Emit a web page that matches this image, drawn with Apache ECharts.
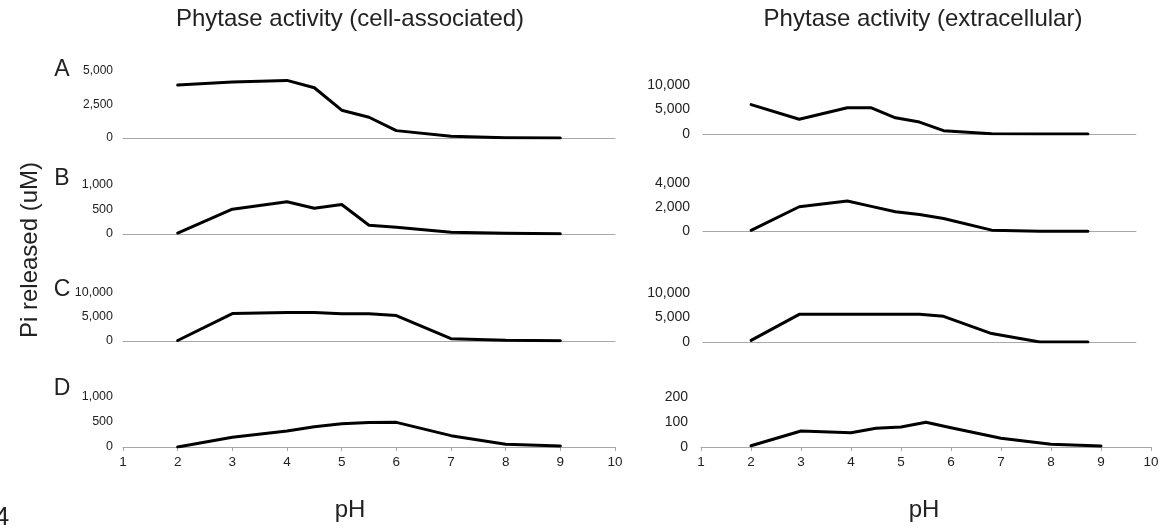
<!DOCTYPE html>
<html>
<head>
<meta charset="utf-8">
<script src="https://cdn.jsdelivr.net/npm/echarts@6/dist/echarts.min.js"></script>
<style>
  html, body { margin: 0; padding: 0; background: #fff; }
  #chart { width: 1165px; height: 529px; }
</style>
</head>
<body>
<div id="chart"></div>
<script>
// pH values used by every panel
const pH = [2, 3, 4, 4.5, 5, 5.5, 6, 7, 8, 9]
const xTicks = [1, 2, 3, 4, 5, 6, 7, 8, 9, 10]

// cell-associated (left column)
const cellA = [3950, 4175, 4300, 3750, 2075, 1550, 550, 125, 25, 0]
const cellB = [20, 507, 658, 527, 603, 178, 137, 34, 14, 7]
const cellC = [100, 5720, 5930, 5930, 5660, 5660, 5310, 480, 140, 70]
const cellD = [0, 193, 320, 406, 466, 490, 493, 227, 53, 20]

// extracellular (right column)
const extA = [6000, 3000, 5340, 5340, 3310, 2430, 675, 70, 0, 0]
const extB = [100, 2040, 2510, 2070, 1630, 1400, 1075, 110, 30, 30]
const extC = [345, 5650, 5650, 5650, 5650, 5650, 5240, 1720, 0, 0]
const extD = [5, 64, 57, 75, 80, 99, 77, 35, 11, 4]

const yMax = { cellA: 5000, cellB: 1000, cellC: 10000, cellD: 1000, extA: 10000, extB: 4000, extC: 10000, extD: 200 }

const font = "Liberation Sans, Arial, sans-serif"

const panels = [
  { data: cellA, max: yMax.cellA, left: 123, width: 492, top: 71, height: 67, fs: 12, showX: false },
  { data: cellB, max: yMax.cellB, left: 123, width: 492, top: 185, height: 49, fs: 12.5, showX: false },
  { data: cellC, max: yMax.cellC, left: 123, width: 492, top: 293, height: 48, fs: 12.5, showX: false },
  { data: cellD, max: yMax.cellD, left: 123, width: 492, top: 397, height: 50, fs: 12.5, showX: true },
  { data: extA, max: yMax.extA, left: 703, width: 433, top: 85, height: 49, fs: 14, showX: false },
  { data: extB, max: yMax.extB, left: 703, width: 433, top: 183, height: 48.5, fs: 14, showX: false },
  { data: extC, max: yMax.extC, left: 703, width: 433, top: 293, height: 49, fs: 14, showX: false },
  { data: extD, max: yMax.extD, left: 701, width: 450, top: 397, height: 50, fs: 14, showX: true }
]

const chart = echarts.init(document.getElementById("chart"))

const grid = [], xAxis = [], yAxis = [], series = []
panels.forEach((p, i) => {
  grid.push({ left: p.left, width: p.width, top: p.top, height: p.height })
  xAxis.push({
    type: "value", gridIndex: i, min: xTicks[0], max: xTicks[xTicks.length - 1], interval: 1,
    axisLine: { show: true, lineStyle: { color: "#a8a8a8", width: 1 } },
    axisTick: { show: p.showX, length: 4, lineStyle: { color: "#a8a8a8" } },
    axisLabel: { show: p.showX, fontSize: 13.5, color: "#222", fontFamily: font, margin: 8 },
    splitLine: { show: false }
  })
  yAxis.push({
    type: "value", gridIndex: i, min: 0, max: p.max, interval: p.max / 2,
    axisLine: { show: false }, axisTick: { show: false }, splitLine: { show: false },
    axisLabel: {
      fontSize: p.fs, color: "#222", fontFamily: font, margin: i < 4 ? 10 : 13,
      formatter: (v) => v.toLocaleString("en-US")
    }
  })
  series.push({
    type: "line", xAxisIndex: i, yAxisIndex: i,
    data: pH.map((x, k) => [x, p.data[k]]),
    showSymbol: false, symbol: "none", silent: true,
    lineStyle: { color: "#000", width: 3, cap: "round", join: "round" }
  })
})

const txt = (text, x, y, size, extra) => Object.assign({
  type: "text", x: x, y: y,
  style: { text: text, fontSize: size, fontFamily: font, fill: "#222", align: "center", verticalAlign: "middle" }
}, extra || {})

chart.setOption({
  animation: false,
  grid: grid,
  xAxis: xAxis,
  yAxis: yAxis,
  series: series,
  graphic: [
    txt("Phytase activity (cell-associated)", 350, 19, 24),
    txt("Phytase activity (extracellular)", 923, 19, 24),
    txt("Pi released (uM)", 30, 250, 24, { rotation: Math.PI / 2 }),
    txt("A", 62, 70, 23),
    txt("B", 62, 179, 23),
    txt("C", 62, 290, 23),
    txt("D", 62, 389, 23),
    txt("pH", 350, 510, 24),
    txt("pH", 924, 510, 24),
    txt("4", 2, 518, 26)
  ]
})

window.addEventListener("resize", () => {
  chart.resize()
})
</script>
</body>
</html>
